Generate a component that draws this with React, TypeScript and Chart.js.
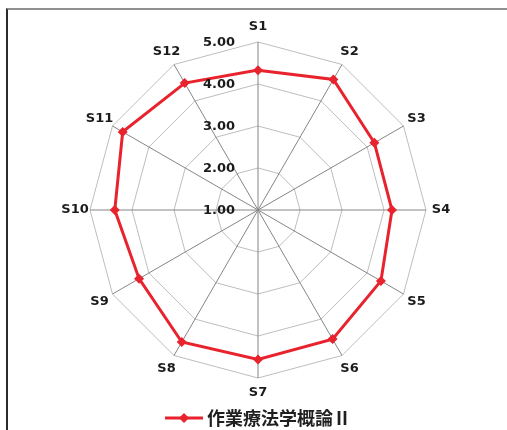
import React, { useEffect, useRef } from "react";
import { Chart, registerables } from "chart.js";

Chart.register(...registerables);

const categories = ["S1", "S2", "S3", "S4", "S5", "S6", "S7", "S8", "S9", "S10", "S11", "S12"];
const seriesName = "作業療法学概論Ⅱ";
const seriesValues = [4.33, 4.59, 4.2, 4.19, 4.38, 4.55, 4.56, 4.63, 4.27, 4.41, 4.72, 4.49];
const tickLabels = ["1.00", "2.00", "3.00", "4.00", "5.00"];
const scaleMin = 1;
const scaleMax = 5;

const RED = "#e8232d";
const LABEL_FONT = "bold 13px 'DejaVu Sans'";
const LEGEND_FONT = "bold 18px 'Noto Sans CJK JP'";

const textPlugin = {
  id: "customText",
  afterDraw(chart: any) {
    const ctx = chart.ctx as CanvasRenderingContext2D;
    const scale = chart.scales.r;
    ctx.save();
    // point labels
    ctx.font = LABEL_FONT;
    ctx.fillStyle = "#1b1b1b";
    ctx.textAlign = "center";
    ctx.textBaseline = "middle";
    categories.forEach((lab, i) => {
      const p = scale.getPointPosition(i, scale.drawingArea + 15);
      ctx.fillText(lab, p.x, p.y);
    });
    // tick labels
    ctx.textAlign = "right";
    scale.ticks.forEach((t: any, i: number) => {
      const d = scale.getDistanceFromCenterForValue(t.value);
      ctx.fillText(tickLabels[i] ?? String(t.label), scale.xCenter - 23, scale.yCenter - d + 1);
    });
    // legend
    ctx.font = LEGEND_FONT;
    const tw = ctx.measureText(seriesName).width;
    const lineLen = 38;
    const gap = 4;
    const total = lineLen + gap + tw;
    const x0 = scale.xCenter - total / 2;
    const y = chart.chartArea.bottom + 40;
    ctx.strokeStyle = RED;
    ctx.lineWidth = 3;
    ctx.beginPath();
    ctx.moveTo(x0, y);
    ctx.lineTo(x0 + lineLen, y);
    ctx.stroke();
    ctx.fillStyle = RED;
    const mx = x0 + lineLen / 2;
    ctx.beginPath();
    ctx.moveTo(mx, y - 5);
    ctx.lineTo(mx + 5, y);
    ctx.lineTo(mx, y + 5);
    ctx.lineTo(mx - 5, y);
    ctx.closePath();
    ctx.fill();
    ctx.fillStyle = "#1f1f1f";
    ctx.textAlign = "left";
    ctx.textBaseline = "middle";
    ctx.fillText(seriesName, x0 + lineLen + gap, y);
    ctx.restore();
  },
};

export default function App() {
  const ref = useRef<HTMLCanvasElement | null>(null);
  useEffect(() => {
    if (!ref.current) return;
    const chart = new Chart(ref.current, {
      type: "radar",
      data: {
        labels: categories,
        datasets: [
          {
            label: seriesName,
            data: seriesValues,
            borderColor: RED,
            backgroundColor: RED,
            borderWidth: 3,
            fill: false,
            pointStyle: "rectRot",
            pointRadius: 5,
            pointBorderWidth: 0,
            pointBackgroundColor: RED,
          },
        ],
      },
      options: {
        responsive: false,
        animation: false,
        devicePixelRatio: 1,
        layout: { padding: { left: 90, right: 81, top: 42, bottom: 52 } },
        plugins: {
          legend: { display: false },
          tooltip: { enabled: false },
        },
        scales: {
          r: {
            min: scaleMin,
            max: scaleMax,
            ticks: { display: false, stepSize: 1 },
            pointLabels: { display: false },
            grid: { color: "#bdbdbd", lineWidth: 1, circular: false },
            angleLines: { color: "#858585", lineWidth: 1 },
          },
        },
      },
      plugins: [textPlugin],
    });
    return () => chart.destroy();
  }, []);
  return (
    <div style={{ position: "absolute", left: 0, top: 0, width: 507, height: 430, background: "#fff", overflow: "hidden" }}>
      <div
        style={{
          position: "absolute",
          left: 6,
          top: 8,
          width: 600,
          height: 500,
          borderLeft: "2px solid #2b2b2b",
          borderTop: "2px solid #8f8f8f",
        }}
      />
      <canvas ref={ref} width={507} height={430} style={{ position: "absolute", left: 0, top: 0 }} />
    </div>
  );
}
